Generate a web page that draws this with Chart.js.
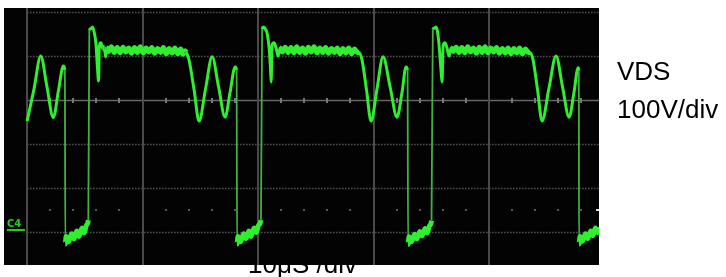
<!DOCTYPE html>
<html>
<head>
<meta charset="utf-8">
<script src="https://cdn.jsdelivr.net/npm/chart.js@4"></script>
<style>
  body { margin: 0; background: #fff; }
  #wrap { width: 726px; height: 277px; }
</style>
</head>
<body>
<div id="wrap"><canvas id="scope" width="726" height="277"></canvas></div>
<script>
// time in microseconds, VDS in volts
var timeUs = [
  0.00, 0.60, 1.18, 1.72, 2.27, 2.72, 3.14, 3.27,
  3.31, 3.38, 3.60, 3.85, 4.05, 4.30, 4.50, 4.75, 4.95, 5.15, 5.30,
  5.39, 5.52, 5.66, 5.80, 5.96, 6.10, 6.19, 6.25, 6.40, 6.55, 6.70, 6.80, 6.90,
  7.05, 7.3, 7.55, 7.8, 8.05, 8.3, 8.55, 8.8, 9.05, 9.3, 9.55, 9.8, 10.05, 10.3, 10.55, 10.8, 11.05, 11.3, 11.55, 11.8, 12.05, 12.3, 12.55, 12.8, 13.05, 13.3, 13.5, 13.68,
  13.77, 14.02, 14.46, 14.89, 15.45, 16.02, 16.58, 17.14, 17.58, 18.01, 18.14,
  18.18, 18.26, 18.5, 18.75, 18.95, 19.2, 19.4, 19.65, 19.85, 20.05, 20.25,
  20.35, 20.48, 20.61, 20.78, 20.95, 21.08, 21.13, 21.21, 21.39, 21.56, 21.73, 21.90,
  22.1, 22.35, 22.6, 22.85, 23.1, 23.35, 23.6, 23.85, 24.1, 24.35, 24.6, 24.85, 25.1, 25.35, 25.6, 25.85, 26.1, 26.35, 26.6, 26.85, 27.1, 27.35, 27.6, 27.85, 28.1, 28.35, 28.6,
  28.74, 29.0, 29.39, 29.78, 30.30, 30.82, 31.43, 32.03, 32.47, 32.81, 32.94,
  32.99, 33.07, 33.3, 33.55, 33.75, 34.0, 34.2, 34.45, 34.65, 34.85, 35.02,
  35.13, 35.24, 35.41, 35.54, 35.67, 35.84, 35.93, 36.02, 36.19, 36.36, 36.54, 36.71,
  36.9, 37.15, 37.4, 37.65, 37.9, 38.15, 38.4, 38.65, 38.9, 39.15, 39.4, 39.65, 39.9, 40.15, 40.4, 40.65, 40.9, 41.15, 41.4, 41.65, 41.9, 42.15, 42.4, 42.65, 42.9, 43.15, 43.4,
  43.55, 43.81, 44.2, 44.59, 45.19, 45.80, 46.36, 46.93, 47.36, 47.71, 47.77,
  47.79, 47.88, 48.1, 48.35, 48.55, 48.8, 49.0, 49.2, 49.4, 49.52
];
var vdsVolts = [
  252, 325, 400, 330, 260, 322, 377, 368,
  -27, -10, -22, -4, -16, 2, -10, 9, -2, 16, 27,
  459, 462, 466, 455, 428, 370, 343, 423, 430, 416, 420, 398, 418,
  410, 421, 408, 419, 407, 420, 409, 418, 406, 419, 408, 421, 407, 418, 409, 419, 406, 417, 408, 419, 405, 417, 407, 418, 405, 416, 404, 412,
  409, 391, 323, 252, 325, 398, 330, 261, 318, 375, 368,
  -27, -10, -22, -4, -15, 2, -10, 9, -1, 16, 27,
  461, 466, 462, 452, 420, 370, 341, 425, 430, 418, 400, 418,
  409, 420, 408, 419, 407, 421, 408, 418, 406, 420, 409, 421, 407, 418, 408, 419, 406, 417, 408, 418, 405, 417, 407, 418, 405, 416, 408,
  408, 391, 323, 252, 325, 398, 330, 261, 318, 375, 368,
  -28, -11, -22, -5, -16, 1, -9, 8, -2, 15, 26,
  460, 463, 466, 455, 425, 368, 341, 423, 430, 418, 400, 418,
  410, 420, 408, 419, 407, 421, 409, 418, 406, 420, 408, 421, 407, 418, 409, 419, 406, 417, 407, 418, 405, 417, 407, 418, 405, 416, 408,
  408, 391, 323, 252, 327, 400, 330, 261, 318, 373, 366,
  -27, -10, -21, -4, -15, 2, -8, 9, -1, 11
];

var xDivs = [0, 10, 20, 30, 40];          // 10 uS / div
var yDivs = [0, 100, 200, 400, 500];      // dotted rows, 100 V / div
var yCenter = 300;                        // solid row with minor ticks
var yMinorRow = 50;                       // row of dots
var minorStep = 2;

var points = timeUs.map(function (t, i) { return { x: t, y: vdsVolts[i] }; });

function isEdge(s) {
  var dx = s.p1.parsed.x - s.p0.parsed.x, dy = Math.abs(s.p1.parsed.y - s.p0.parsed.y);
  return dx < 0.12 && dy > 200;
}
// noisy flat parts (top plateau, bottom floor) show up as a thick band on the screen
function isNoisy(s) {
  var a = s.p0.parsed.y, b = s.p1.parsed.y;
  return (a > 402 && a < 425 && b > 402 && b < 425) || (a < 30 && b < 30);
}

var scopePlugin = {
  id: 'scope',
  beforeDraw: function (chart) {
    var c = chart.ctx, a = chart.chartArea;
    var xs = chart.scales.x, ys = chart.scales.y;
    c.save();
    // axis caption sits behind the screen
    c.fillStyle = '#000';
    c.font = '26px "Liberation Sans", Arial, sans-serif';
    c.textBaseline = 'alphabetic';
    c.fillText('10\u03bcS /div', 248, 273);

    c.fillStyle = '#030303';
    c.fillRect(a.left, a.top, a.right - a.left, a.bottom - a.top);

    var gx0 = xs.getPixelForValue(0);
    // dotted rows
    c.strokeStyle = '#555';
    c.lineWidth = 1.5;
    c.setLineDash([1.5, 1.5]);
    yDivs.forEach(function (v) {
      var py = Math.round(ys.getPixelForValue(v)) + 0.5;
      c.beginPath(); c.moveTo(gx0, py); c.lineTo(a.right, py); c.stroke();
    });
    c.setLineDash([]);
    // centre row
    var pc = Math.round(ys.getPixelForValue(yCenter)) + 0.5;
    c.strokeStyle = '#666';
    c.lineWidth = 1.5;
    c.beginPath(); c.moveTo(gx0, pc); c.lineTo(a.right, pc); c.stroke();
    var pm = Math.round(ys.getPixelForValue(yMinorRow));
    for (var t = minorStep; t <= xs.max; t += minorStep) {
      var px = Math.round(xs.getPixelForValue(t));
      c.fillStyle = '#777';
      c.fillRect(px - 1, pc - 2.5, 2, 5);
      c.fillStyle = '#555';
      c.fillRect(px - 1, pm - 1, 2, 2);
    }
    // vertical division lines
    c.strokeStyle = '#4a4a4a';
    c.lineWidth = 2;
    xDivs.forEach(function (v) {
      var px = Math.round(xs.getPixelForValue(v));
      c.beginPath(); c.moveTo(px, a.top); c.lineTo(px, a.bottom); c.stroke();
    });
    // channel marker
    var p0 = ys.getPixelForValue(0);
    c.fillStyle = '#22cc22';
    c.font = 'bold 10px "DejaVu Sans", sans-serif';
    c.fillText('C4', 7, p0 - 5);
    c.fillRect(7, p0 - 3, 18, 2);
    // trigger marker
    c.fillStyle = '#ddd';
    c.fillRect(a.right - 3, pm - 1, 3, 2);
    c.restore();
  },
  afterDraw: function (chart) {
    var c = chart.ctx;
    c.save();
    c.fillStyle = '#000';
    c.font = '26px "Liberation Sans", Arial, sans-serif';
    c.fillText('VDS', 617, 80);
    c.fillText('100V/div', 617, 118);
    c.restore();
  }
};

var ctx = document.getElementById('scope').getContext('2d');
var chart = new Chart(ctx, {
  type: 'line',
  data: {
    datasets: [{
      label: 'VDS',
      data: points,
      borderColor: '#2ef02e',
      borderWidth: 3,
      pointRadius: 0,
      fill: false,
      cubicInterpolationMode: 'monotone',
      segment: {
        borderColor: function (s) { return isEdge(s) ? '#44b044' : undefined; },
        borderWidth: function (s) {
          if (isEdge(s)) return 1.8;
          return isNoisy(s) ? 5 : undefined;
        }
      }
    }]
  },
  options: {
    responsive: false,
    animation: false,
    layout: { padding: { left: 4, top: 8, right: 127, bottom: 12 } },
    plugins: { legend: { display: false }, tooltip: { enabled: false } },
    scales: {
      x: { type: 'linear', min: -2, max: 49.52, display: false },
      y: { type: 'linear', min: -75, max: 509, display: false }
    }
  },
  plugins: [scopePlugin]
});
</script>
</body>
</html>
